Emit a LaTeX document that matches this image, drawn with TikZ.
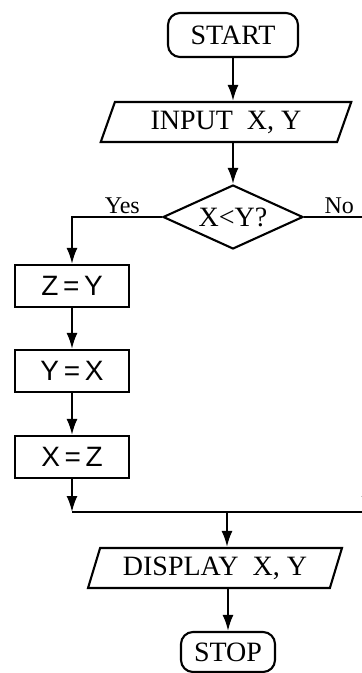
\documentclass[tikz,border=0pt]{standalone}
\usepackage{fontspec}
\setmainfont{Liberation Serif}
\setsansfont{Liberation Sans}
\usetikzlibrary{shapes.geometric,arrows.meta}

\tikzset{
  term/.style={draw,rounded corners=6pt,minimum width=65pt,minimum height=22pt,inner sep=0pt},
  io/.style={draw,trapezium,trapezium left angle=67,trapezium right angle=113,
             trapezium stretches=true,minimum width=126pt,minimum height=20pt,inner sep=0pt},
  decision/.style={draw,diamond,shape aspect=2.2,minimum width=70pt,minimum height=32pt,inner sep=0pt},
  assign/.style={draw,minimum width=57pt,minimum height=21pt,inner sep=0pt,font=\sffamily\fontsize{14}{16}\selectfont},
  answer/.style={above,inner sep=1pt,font=\fontsize{12}{14}\selectfont},
}

\begin{document}
\begin{tikzpicture}[x=0.5pt,y=-0.5pt,line width=1.05pt,>={Latex[length=8pt,width=5.5pt]},
                    font=\fontsize{14}{16}\selectfont]

  \useasboundingbox (0,0) rectangle (361,673);

  % Main column
  \node (start) at (233,35)   [term]     {START};
  \node (input) at (226,122)  [io]       {INPUT\ \ X, Y};
  \node (test)  at (233,217)  [decision] {X<Y?};

  % Swap column
  \node (zy) at (72,286) [assign] {Z\,=\,Y};
  \node (yx) at (72,371) [assign] {Y\,=\,X};
  \node (xz) at (72,457) [assign] {X\,=\,Z};

  % Bottom
  \node (disp) at (215,568) [io,minimum width=127pt] {DISPLAY\ \ X, Y};
  \node (stop) at (228,652) [term,minimum width=47pt,minimum height=20pt] {STOP};

  % Join points
  \coordinate (noturn) at (367,217);
  \coordinate (joinL)  at (72,512);
  \coordinate (joinM)  at (227,512);
  \coordinate (joinR)  at (367,512);

  % Flow
  \draw[->] (start.south) -- (start.south |- input.north);
  \draw[->] (input.south -| test.north) -- (test.north);
  \draw[->] (test.west) -| node[pos=0.22,answer] {Yes} (zy.north);
  \draw[->] (test.east) -- node[pos=0.56,answer] {No} (noturn) -- (joinR);
  \draw[->] (zy) -- (yx);
  \draw[->] (yx) -- (xz);
  \draw[->] (xz) -- (joinL);
  \draw (joinL) -- (joinR);
  \draw[->] (joinM) -- (joinM |- disp.north);
  \draw[->] (stop.north |- disp.south) -- (stop.north);

\end{tikzpicture}
\end{document}
